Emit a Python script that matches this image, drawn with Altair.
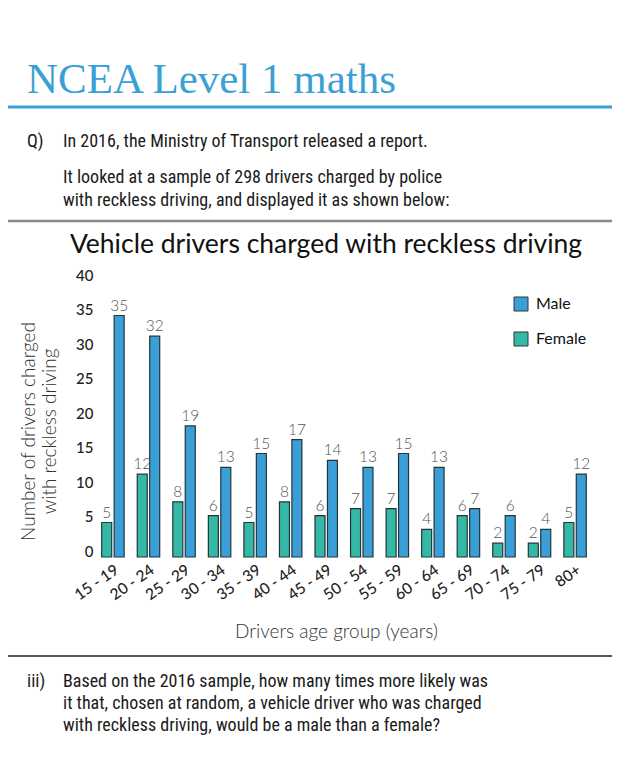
import altair as alt
import pandas as pd

ages = ["15 - 19", "20 - 24", "25 - 29", "30 - 34", "35 - 39", "40 - 44", "45 - 49",
        "50 - 54", "55 - 59", "60 - 64", "65 - 69", "70 - 74", "75 - 79", "80+"]
male = [35, 32, 19, 13, 15, 17, 14, 13, 15, 13, 7, 6, 4, 12]
female = [5, 12, 8, 6, 5, 8, 6, 7, 7, 4, 6, 2, 2, 5]
y_ticks = [0, 5, 10, 15, 20, 25, 30, 35, 40]

header = "NCEA Level 1 maths"
q_lines = ["In 2016, the Ministry of Transport released a report.",
           "It looked at a sample of 298 drivers charged by police",
           "with reckless driving, and displayed it as shown below:"]
chart_title = "Vehicle drivers charged with reckless driving"
iii_lines = ["Based on the 2016 sample, how many times more likely was",
             "it that, chosen at random, a vehicle driver who was charged",
             "with reckless driving, would be a male than a female?"]

rows = []
for a, m, f in zip(ages, male, female):
    rows.append({"age": a, "sex": "Female", "n": f})
    rows.append({"age": a, "sex": "Male", "n": m})
df = pd.DataFrame(rows)

BLUE = "#3a9fd6"
TEAL = "#33b9a6"
SANS = "Liberation Sans Narrow, Roboto Condensed, Lato, sans-serif"
GEO = "Lato, Roboto, sans-serif"

W, H = 492, 276

x = alt.X("age:N", sort=ages,
          scale=alt.Scale(paddingInner=0.3, paddingOuter=0.07),
          axis=alt.Axis(title="Drivers age group (years)", labelAngle=-35, labelAlign="right",
                        labelBaseline="top", labelPadding=5, labelFontSize=15.5,
                        labelFont=GEO, labelFontWeight=500, labelColor="#222",
                        domain=False, ticks=False, grid=False, titleFont=GEO, titleFontSize=19,
                        titleFontWeight=300, titleColor="#333", titleX=238, titleY=80,
                        titleAnchor="middle", titleAlign="center", titleBaseline="alphabetic"))
xo = alt.XOffset("sex:N", sort=["Female", "Male"], scale=alt.Scale(domain=["Female", "Male"]))
y = alt.Y("n:Q", scale=alt.Scale(domain=[0, 40]),
          axis=alt.Axis(values=y_ticks, labelOverlap=False,
                        title=["Number of drivers charged", "with reckless driving"],
                        grid=False, domain=False, ticks=False, labelPadding=5, labelOffset=-6,
                        labelFont=GEO, labelFontSize=15, labelFontWeight=500, labelColor="#222",
                        titleFont=GEO, titleFontSize=19, titleFontWeight=300, titleColor="#333",
                        titleX=-60, titleY=150, titleAlign="center", titleBaseline="bottom",
                        titleLineHeight=21))
color = alt.Color("sex:N", scale=alt.Scale(domain=["Male", "Female"], range=[BLUE, TEAL]),
                  legend=alt.Legend(title=None, orient="none", legendX=415, legendY=15,
                                    symbolType="square", symbolSize=196, symbolStrokeColor="#333",
                                    symbolStrokeWidth=1, labelFont=GEO, labelFontSize=16,
                                    labelColor="#111", rowPadding=17, labelOffset=7))

bars = alt.Chart(df).mark_bar(width=10, stroke="#26343a", strokeWidth=1.2).encode(
    x=x, xOffset=xo, y=y, color=color)
vals = alt.Chart(df).mark_text(baseline="bottom", dy=-2, fontSize=15.5, fontWeight=300,
                               font=GEO, color="#555").encode(
    x=x, xOffset=xo, y=y, text="n:Q")


def txt(s, px, py, size, font=SANS, color="#1a1a1a", align="left", weight="normal"):
    return alt.Chart(alt.Data(values=[{"t": s}])).mark_text(
        align=align, baseline="alphabetic", fontSize=size, font=font, color=color,
        fontWeight=weight).encode(x=alt.value(px), y=alt.value(py), text="t:N")


def rule(py, color, w):
    return alt.Chart(alt.Data(values=[{"a": 1}])).mark_rule(color=color, strokeWidth=w).encode(
        x=alt.value(-98), x2=alt.value(522), y=alt.value(py))


ann = [
    txt(header, -71, -188, 43, font="Liberation Serif, DejaVu Serif, serif", color="#3aa0d5"),
    rule(-174, "#3aa0d5", 3),
    txt("Q)", -71, -134, 18),
    txt(q_lines[0], -35, -134, 18),
    txt(q_lines[1], -35, -98, 18),
    txt(q_lines[2], -35, -75, 18),
    rule(-60, "#8a8a8a", 2.5),
    txt(chart_title, 228, -28, 26.5, font=GEO, color="#111", align="center"),
    rule(375, "#222", 1.5),
    txt("iii)", -71, 406, 18),
    txt(iii_lines[0], -35, 406, 18),
    txt(iii_lines[1], -35, 428, 18),
    txt(iii_lines[2], -35, 450, 18),
]

chart = alt.layer(bars, vals, *ann).properties(
    width=W, height=H,
    autosize=alt.AutoSizeParams(type="none"),
    padding={"left": 90, "top": 273, "right": 22, "bottom": 193},
).configure(background="white").configure_view(stroke=None)

chart.save("out.html", embed_options={"renderer": "svg", "actions": False})
